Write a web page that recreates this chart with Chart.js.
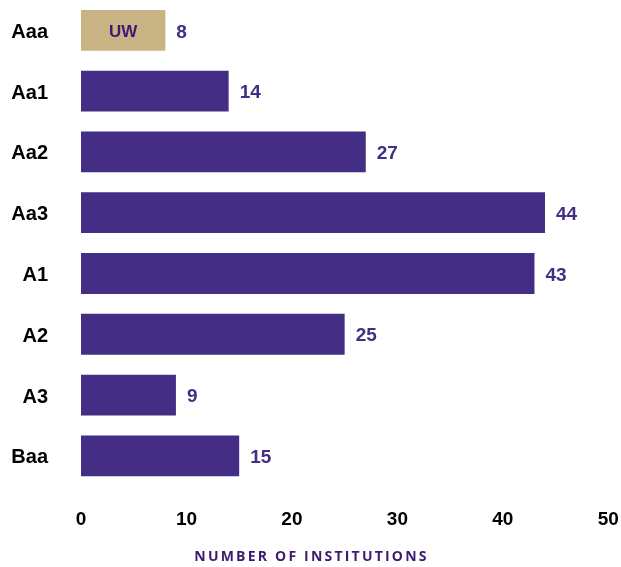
<!DOCTYPE html>
<html>
<head>
<meta charset="utf-8">
<script src="https://cdn.jsdelivr.net/npm/chart.js@4/dist/chart.umd.min.js"></script>
<style>
  html, body { margin: 0; padding: 0; background: #ffffff; }
  #wrap { position: relative; width: 621px; height: 567px; }
</style>
</head>
<body>
<div id="wrap"><canvas id="c" width="621" height="567"></canvas></div>
<script>
const categories = ["Aaa", "Aa1", "Aa2", "Aa3", "A1", "A2", "A3", "Baa"];
const institutions = [8, 14, 27, 44, 43, 25, 9, 15];
const highlightIndex = 0;
const highlightLabel = "UW";
const xTicks = [0, 10, 20, 30, 40, 50];
const axisTitle = "NUMBER OF INSTITUTIONS";

const PURPLE = "#432d85";
const GOLD = "#c8b384";
const DARK_PURPLE = "#3b1a72";
const TOP_PAD = -2.6;
const RIGHT_PAD = 12.7;

const labelPlugin = {
  id: "barLabels",
  afterDatasetsDraw(chart) {
    const ctx = chart.ctx;
    const meta = chart.getDatasetMeta(0);
    ctx.save();
    meta.data.forEach((bar, i) => {
      const v = institutions[i];
      ctx.font = "bold 19px Arial, 'Liberation Sans', sans-serif";
      ctx.fillStyle = PURPLE;
      ctx.textAlign = "left";
      ctx.textBaseline = "middle";
      ctx.fillText(String(v), bar.x + 11, bar.y + 2);
      if (i === highlightIndex) {
        ctx.font = "bold 17px Arial, 'Liberation Sans', sans-serif";
        ctx.fillStyle = DARK_PURPLE;
        ctx.textAlign = "center";
        ctx.fillText(highlightLabel, (bar.base + bar.x) / 2, bar.y + 2);
      }
    });
    ctx.restore();
  },
  afterDraw(chart) {
    const ctx = chart.ctx;
    ctx.save();
    ctx.font = "bold 14px 'Open Sans', sans-serif";
    ctx.fillStyle = DARK_PURPLE;
    ctx.textAlign = "center";
    ctx.textBaseline = "middle";
    try { ctx.letterSpacing = "2.2px"; } catch (e) {}
    ctx.fillText(axisTitle, chart.width / 2 + 1, 557.5);
    ctx.restore();
  }
};

new Chart(document.getElementById("c"), {
  type: "bar",
  data: {
    labels: categories,
    datasets: [{
      data: institutions,
      backgroundColor: institutions.map((_, i) => i === highlightIndex ? GOLD : PURPLE),
      borderWidth: 0,
      categoryPercentage: 1,
      barPercentage: 0.671
    }]
  },
  options: {
    indexAxis: "y",
    responsive: false,
    animation: false,
    devicePixelRatio: 1,
    layout: { padding: { top: TOP_PAD, right: RIGHT_PAD, bottom: 0, left: 0 } },
    plugins: { legend: { display: false }, tooltip: { enabled: false } },
    scales: {
      x: {
        min: 0, max: 50,
        afterBuildTicks(scale) { scale.ticks = xTicks.map(v => ({ value: v })); },
        afterFit(scale) {
          scale.height = 80.8;
          scale.paddingLeft = 0;
          scale.paddingRight = RIGHT_PAD;
          scale.paddingTop = TOP_PAD;
          scale.paddingBottom = 0;
        },
        grid: { display: false, drawTicks: false },
        border: { display: false },
        ticks: {
          color: "#000000",
          font: { family: "Arial, 'Liberation Sans', sans-serif", size: 19, weight: "bold" },
          padding: 22,
          maxRotation: 0
        }
      },
      y: {
        afterFit(scale) {
          scale.width = 81;
          scale.paddingTop = TOP_PAD;
          scale.paddingBottom = 0;
        },
        grid: { display: false, drawTicks: false },
        border: { display: false },
        ticks: {
          color: "#000000",
          font: { family: "Arial, 'Liberation Sans', sans-serif", size: 20, weight: "bold" },
          padding: 33,
          labelOffset: 2
        }
      }
    }
  },
  plugins: [labelPlugin]
});
</script>
</body>
</html>
